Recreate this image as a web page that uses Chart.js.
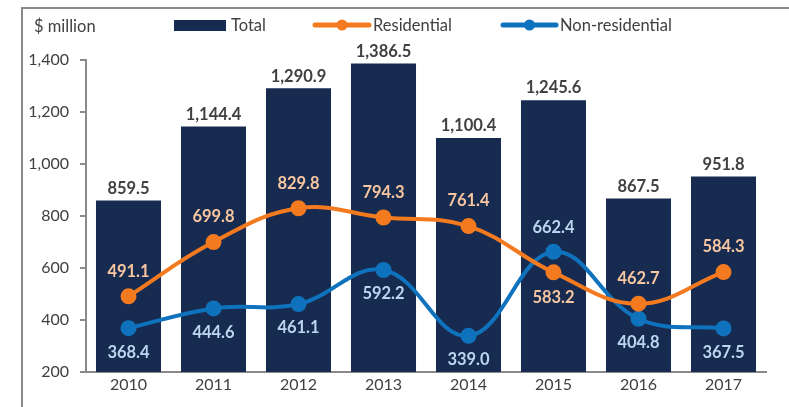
<!DOCTYPE html>
<html>
<head>
<meta charset="utf-8">
<script src="https://cdn.jsdelivr.net/npm/chart.js@4"></script>
<style>
  html, body { margin: 0; padding: 0; background: #fff; }
  #wrap { width: 789px; height: 407px; position: relative; }
</style>
</head>
<body>
<div id="wrap"><canvas id="chart" width="789" height="407"></canvas></div>
<script>
const years = ['2010', '2011', '2012', '2013', '2014', '2015', '2016', '2017'];
const total = [859.5, 1144.4, 1290.9, 1386.5, 1100.4, 1245.6, 867.5, 951.8];
const residential = [491.1, 699.8, 829.8, 794.3, 761.4, 583.2, 462.7, 584.3];
const nonResidential = [368.4, 444.6, 461.1, 592.2, 339.0, 662.4, 404.8, 367.5];
// label placement: 1 = above the point, -1 = below
const resPos = [1, 1, 1, 1, 1, -1, 1, 1];
const nonResPos = [-1, -1, -1, -1, -1, 1, -1, -1];

const FONT = 'Lato, "Open Sans", sans-serif';
const navy = '#172b50';
const orange = '#f47a20';
const blue = '#0f72bd';

function fmt(v) {
  return v.toLocaleString('en-US', { minimumFractionDigits: 1, maximumFractionDigits: 1 });
}

// value labels + frame + legend
const extras = {
  id: 'extras',
  afterDatasetsDraw(chart) {
    const ctx = chart.ctx;
    ctx.save();
    ctx.font = 'bold 16.5px ' + FONT;
    ctx.textAlign = 'center';
    ctx.textBaseline = 'middle';

    chart.getDatasetMeta(0).data.forEach((bar, i) => {
      ctx.fillStyle = '#404040';
      ctx.fillText(fmt(total[i]), bar.x, bar.y - 12);
    });
    chart.getDatasetMeta(1).data.forEach((pt, i) => {
      ctx.fillStyle = '#f8c6a0';
      ctx.fillText(fmt(residential[i]), pt.x, pt.y - 25 * resPos[i]);
    });
    chart.getDatasetMeta(2).data.forEach((pt, i) => {
      ctx.fillStyle = '#bcd6ef';
      ctx.fillText(fmt(nonResidential[i]), pt.x, pt.y - 24 * nonResPos[i]);
    });

    // outer frame (cropped)
    ctx.strokeStyle = '#8a8a8a';
    ctx.lineWidth = 2;
    ctx.beginPath();
    ctx.moveTo(22, 407);
    ctx.lineTo(22, 8);
    ctx.lineTo(789, 8);
    ctx.stroke();

    // unit + legend
    ctx.font = '16.5px ' + FONT;
    ctx.textAlign = 'left';
    ctx.fillStyle = '#404040';
    ctx.fillText('$ million', 34, 27);

    ctx.fillStyle = navy;
    ctx.fillRect(174, 20, 52, 11);
    ctx.fillStyle = '#404040';
    ctx.fillText('Total', 231, 26);

    const legLine = (x1, x2, color, label) => {
      ctx.strokeStyle = color;
      ctx.lineWidth = 5;
      ctx.lineCap = 'round';
      ctx.beginPath();
      ctx.moveTo(x1, 25);
      ctx.lineTo(x2, 25);
      ctx.stroke();
      ctx.fillStyle = color;
      ctx.beginPath();
      ctx.arc((x1 + x2) / 2, 25, 5.5, 0, Math.PI * 2);
      ctx.fill();
      ctx.fillStyle = '#404040';
      ctx.fillText(label, x2 + 4, 26);
    };
    legLine(315, 369, orange, 'Residential');
    legLine(503, 556, blue, 'Non-residential');
    ctx.restore();
  }
};

new Chart(document.getElementById('chart'), {
  data: {
    labels: years,
    datasets: [
      {
        type: 'bar',
        label: 'Total',
        data: total,
        backgroundColor: navy,
        barPercentage: 0.765,
        categoryPercentage: 1,
        order: 3
      },
      {
        type: 'line',
        label: 'Residential',
        data: residential,
        borderColor: orange,
        backgroundColor: orange,
        borderWidth: 4,
        pointRadius: 6,
        pointHoverRadius: 6,
        tension: 0.4,
        order: 1
      },
      {
        type: 'line',
        label: 'Non-residential',
        data: nonResidential,
        borderColor: blue,
        backgroundColor: blue,
        borderWidth: 4,
        pointRadius: 6,
        pointHoverRadius: 6,
        tension: 0.4,
        order: 2
      }
    ]
  },
  options: {
    responsive: false,
    animation: false,
    layout: { padding: { top: 60, right: 23, left: 0, bottom: 0 } },
    plugins: {
      legend: { display: false },
      tooltip: { enabled: false }
    },
    scales: {
      x: {
        grid: { display: false, drawTicks: false },
        border: { color: '#8a8a8a', width: 2 },
        ticks: { color: '#404040', font: { family: FONT, size: 16 }, padding: 3 },
        afterFit: s => { s.height = 35; }
      },
      y: {
        min: 200,
        max: 1400,
        grid: { drawOnChartArea: false, drawTicks: true, tickLength: 6, color: '#8a8a8a', lineWidth: 2 },
        border: { color: '#8a8a8a', width: 2 },
        ticks: {
          stepSize: 200,
          color: '#404040',
          font: { family: FONT, size: 16 },
          padding: 11,
          callback: v => v.toLocaleString('en-US')
        },
        afterFit: s => { s.width = 86; }
      }
    }
  },
  plugins: [extras]
});
</script>
</body>
</html>
